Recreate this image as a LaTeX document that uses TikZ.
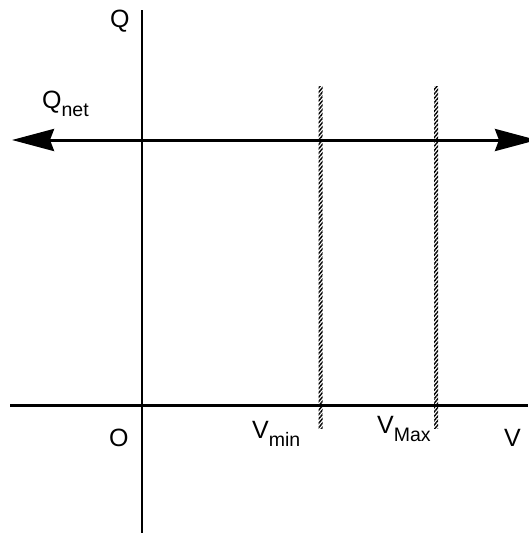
\documentclass[tikz,border=0pt]{standalone}
\usepackage{fontspec}
\setmainfont{Liberation Sans}
\usetikzlibrary{arrows.meta,patterns.meta}
\tikzset{
  axis/.style={line width=2.2pt},
  qline/.style={line width=3pt, {Stealth[length=42pt,width=22pt,inset=4pt]}-{Stealth[length=42pt,width=22pt,inset=4pt]}},
  hatch/.style={pattern={Lines[angle=50,distance=2.8pt,line width=1.4pt]}},
  lbl/.style={anchor=base west, inner sep=0pt, font=\fontsize{25}{28}\selectfont},
}
\newcommand{\lowsub}[1]{\raisebox{-8pt}{\fontsize{19.5}{21}\selectfont #1}}
\begin{document}
\begin{tikzpicture}[x=1pt,y=-1pt]
\useasboundingbox (0,0) rectangle (528,533);
\coordinate (vtop) at (142,10);
\coordinate (vbot) at (142,533);
\coordinate (hl) at (10,405.5);
\coordinate (hr) at (528,405.5);
\coordinate (ql) at (12,140);
\coordinate (qr) at (537,140);
\draw[axis] (vtop) -- (vbot);
\draw[axis] (hl) -- (hr);
\path[hatch] (318.5,86) rectangle (322.5,428);
\path[hatch] (434,86) rectangle (438,428);
\draw[qline] (ql) -- (qr);
\node[lbl] (q) at (110,27) {Q};
\node[lbl] (qnet) at (42,108) {Q\lowsub{net}};
\node[lbl] (o) at (109,446) {O};
\node[lbl] (vmin) at (252,438) {V\lowsub{min}};
\node[lbl] (vmax) at (377,433) {V\lowsub{Max}};
\node[lbl] (v) at (504,446) {V};
\end{tikzpicture}
\end{document}
